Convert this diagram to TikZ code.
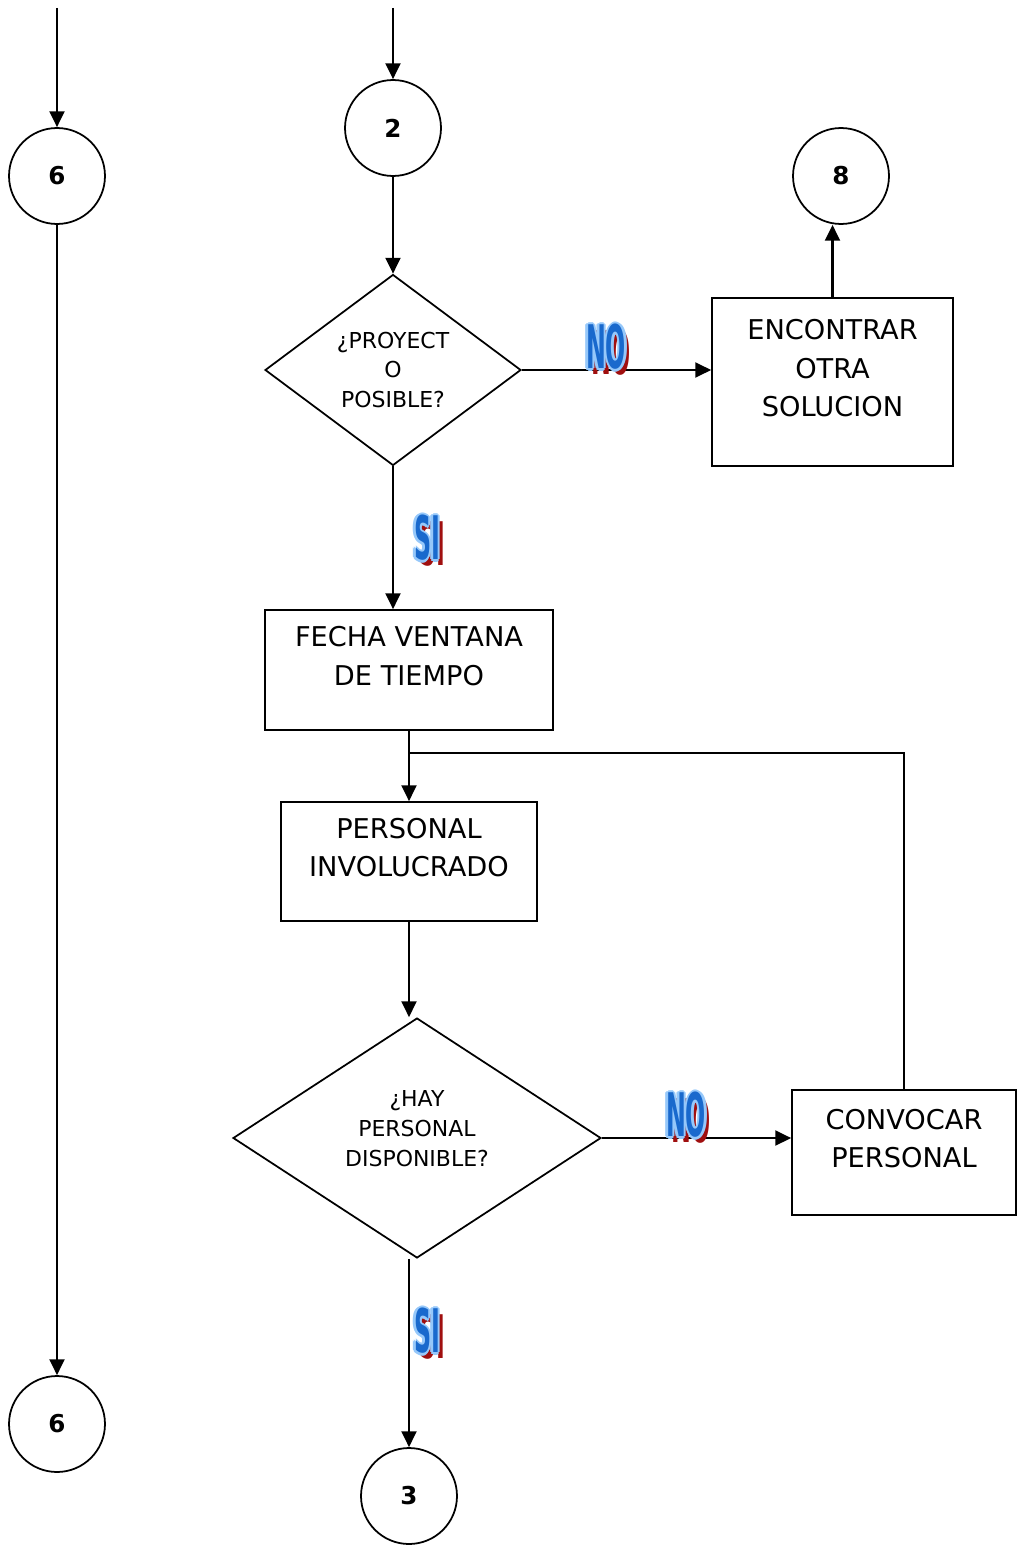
\documentclass[tikz,border=0pt]{standalone}
\usepackage{fontspec}
\setmainfont{DejaVu Sans}
\usetikzlibrary{arrows.meta,shapes.geometric}
\definecolor{sombra}{RGB}{160,15,15}
\definecolor{relleno}{RGB}{25,105,205}
\definecolor{borde}{RGB}{150,200,250}
\tikzset{
  caja/.style={draw,line width=1pt,align=center,inner sep=0pt,text depth=16pt,
    font=\fontsize{15.5}{22}\selectfont},
  decision/.style={draw,diamond,line width=1pt,align=center,inner sep=0pt,
    font=\fontsize{12.5}{17}\selectfont},
  conector/.style={draw,circle,line width=1pt,minimum size=1.92cm,inner sep=0pt,
    font=\fontsize{14}{14}\selectfont\bfseries},
  flecha/.style={line width=1.3pt,-{Triangle[length=9pt,width=8.5pt]}},
  linea/.style={line width=1pt},
  palabra/.style={inner sep=0pt,font=\fontsize{18}{18}\selectfont\bfseries}
}
% etiqueta tipo WordArt: nombre, posicion, texto
\newcommand{\letrero}[3]{
  \node[palabra,text=sombra,shift={(5,6)}] at (#2) {\scalebox{0.75}[1.9]{#3}};
  \foreach \dx/\dy in {-2.5/0,2.5/0,0/-2.5,0/2.5,-1.8/-1.8,1.8/1.8,-1.8/1.8,1.8/-1.8}
    \node[palabra,text=borde,shift={(\dx,\dy)}] at (#2) {\scalebox{0.75}[1.9]{#3}};
  \node[palabra,text=relleno] (#1) at (#2) {\scalebox{0.75}[1.9]{#3}};
}
\begin{document}
\begin{tikzpicture}[x=0.02cm,y=-0.02cm]
  \useasboundingbox (0,0) rectangle (1017,1551);
  % conectores de pagina
  \coordinate (entrada6) at (57,8);
  \coordinate (entrada2) at (393,8);
  \node[conector] (c6a) at (57,176) {6};
  \node[conector] (c6b) at (57,1424) {6};
  \node[conector] (c2) at (393,128) {2};
  \node[conector] (c8) at (841,176) {8};
  \node[conector] (c3) at (409,1496) {3};
  % decisiones
  \node[decision,aspect=1.34,minimum width=5.12cm,minimum height=3.82cm] (d1) at (393,370)
    {¿PROYECT\\O\\POSIBLE?};
  \node[decision,aspect=1.53,minimum width=7.36cm,minimum height=4.8cm,text depth=11pt] (d2) at (417,1138)
    {¿HAY\\PERSONAL\\DISPONIBLE?};
  % procesos
  \node[caja,minimum width=4.82cm,minimum height=3.36cm] (b1) at (832.5,382)
    {ENCONTRAR\\OTRA\\SOLUCION};
  \node[caja,minimum width=5.76cm,minimum height=2.4cm] (b2) at (409,670)
    {FECHA VENTANA\\DE TIEMPO};
  \node[caja,minimum width=5.12cm,minimum height=2.38cm] (b3) at (409,861.5)
    {PERSONAL\\INVOLUCRADO};
  \node[caja,minimum width=4.48cm,minimum height=2.5cm] (b5) at (904,1152.5)
    {CONVOCAR\\PERSONAL};
  \coordinate (junta) at (409,753);
  % flechas
  \draw[flecha] (entrada6) -- (c6a);
  \draw[flecha] (c6a) -- (c6b);
  \draw[flecha] (entrada2) -- (c2);
  \draw[flecha] (c2) -- (d1);
  \draw[flecha] (d1.east) -- (d1.east -| b1.west);
  \draw[flecha] (b1.north) -- (b1.north |- c8.south);
  \draw[flecha] (d1.south) -- (d1.south |- b2.north);
  \draw[flecha] (b2.south) -- (b3.north);
  \draw[linea] (b5.north) |- (junta);
  \draw[flecha] (b3.south) -- (b3.south |- d2.north);
  \draw[flecha] (d2.east) -- (d2.east -| b5.west);
  \draw[flecha] (c3.north |- d2.south) -- (c3.north);
  % etiquetas
  \letrero{no1}{606,347}{NO}
  \letrero{si1}{427,538}{SI}
  \letrero{no2}{686,1115}{NO}
  \letrero{si2}{427,1331}{SI}
\end{tikzpicture}
\end{document}
